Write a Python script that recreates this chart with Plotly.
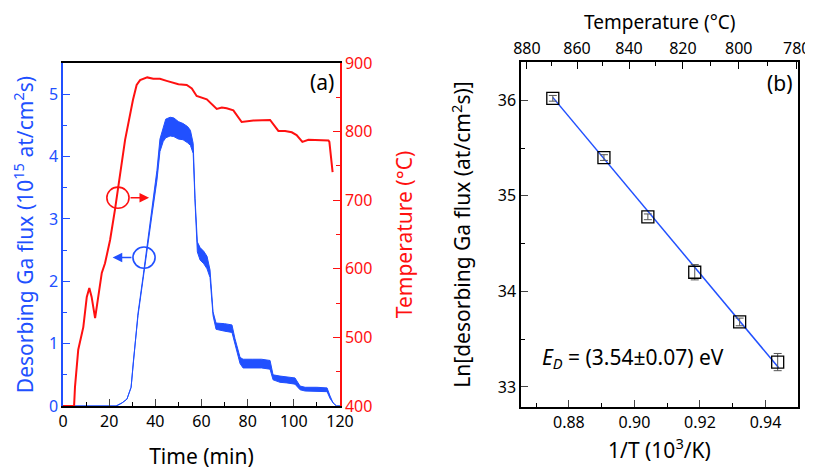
import plotly.graph_objects as go

# ---------------- Panel (a) data ----------------
flux_t = [0, 23, 25.6, 27.7, 29.5, 30.5, 32.5, 34.7, 36.4, 38.5, 40.7, 42, 43.4, 44.5, 46.4, 48, 50, 52,
          54, 55.2, 56.4, 57.2, 58.2, 59.4, 61, 62.4, 63.7, 65, 66.3, 68, 70, 73.2, 74.5, 76.7, 78, 82,
          86, 89.7, 91, 94, 97, 100.5, 102.7, 104.9, 110, 114.4, 115.7, 117, 118.5, 120]
flux_val = [0, 0, 0.05, 0.11, 0.3, 0.72, 1.47, 2.05, 2.53, 3.12, 3.7, 4.18, 4.36, 4.45, 4.48, 4.47, 4.42, 4.40,
            4.35, 4.3, 4.13, 3.3, 2.55, 2.44, 2.38, 2.3, 2.12, 1.48, 1.28, 1.27, 1.26, 1.24, 1.05, 0.73, 0.68, 0.68,
            0.68, 0.66, 0.46, 0.43, 0.42, 0.40, 0.29, 0.27, 0.27, 0.26, 0.14, 0.05, 0.0, 0.0]
flux_noise = [0, 0, 0, 0, 0, 0, 0.02, 0.03, 0.05, 0.07, 0.08, 0.1, 0.12, 0.15, 0.15, 0.15, 0.14, 0.13,
              0.13, 0.12, 0.08, 0.03, 0.08, 0.1, 0.1, 0.1, 0.06, 0.03, 0.05, 0.06, 0.06, 0.06, 0.03, 0.05, 0.07, 0.07,
              0.07, 0.07, 0.04, 0.05, 0.05, 0.05, 0.03, 0.03, 0.03, 0.03, 0.02, 0.0, 0.0, 0.0]

temp_t = [0, 4.8, 5.2, 6.6, 8.8, 10.3, 11.4, 12.4, 13.9, 15.3, 16.8, 18.2, 20.4, 22.5, 24.7, 26.9, 30.3,
          31.9, 33.4, 36.5, 39.1, 42, 44.9, 50, 53.6, 55.8, 57.9, 59.4, 62.3, 66.6, 68.8, 70.9, 73.8,
          77.4, 82.5, 89.7, 93.3, 96.2, 99.1, 101.2, 103.7, 106.3, 115, 115.4, 116.4, 116.8]
temp_val = [400, 400, 428, 482, 515, 559, 572, 559, 528, 559, 594, 608, 642, 686, 734, 788, 846,
            868, 875, 879, 877, 877, 874, 869, 868, 863, 852, 850, 847, 833, 835, 834, 831,
            814, 816, 817, 801, 801, 799, 795, 785, 788, 787, 785, 754, 741]

# ---------------- Panel (b) data ----------------
inv_T = [0.8751, 0.8907, 0.9041, 0.9184, 0.9321, 0.9437]
ln_flux = [36.02, 35.40, 34.78, 34.20, 33.68, 33.26]
ln_err = [0.03, 0.03, 0.03, 0.08, 0.04, 0.09]
fit_x = [0.8751, 0.9440]
fit_y = [36.03, 33.20]
top_T_major = [880, 860, 840, 820, 800, 780]
top_T_minor = [870, 850, 830, 810, 790]

BLUE = "#2150ff"
RED = "#ff1010"
FONT = "Noto Sans"
W, H, OFF = 813, 470, 8  # page body margin offset


def xp(px):
    return (px - OFF) / W


def yp(py):
    return 1 - (py - OFF) / H


fig = go.Figure()

hi = [v + n for v, n in zip(flux_val, flux_noise)]
lo = [max(0.0, v - n) for v, n in zip(flux_val, flux_noise)]
fig.add_trace(go.Scatter(x=flux_t + flux_t[::-1], y=hi + lo[::-1], fill="toself",
                         fillcolor=BLUE, line=dict(color=BLUE, width=1), mode="lines",
                         xaxis="x", yaxis="y", hoverinfo="skip"))
fig.add_trace(go.Scatter(x=temp_t, y=temp_val, mode="lines", line=dict(color=RED, width=2),
                         xaxis="x", yaxis="y2"))

fig.add_trace(go.Scatter(x=fit_x, y=fit_y, mode="lines", line=dict(color=BLUE, width=1.5),
                         xaxis="x2", yaxis="y3"))
fig.add_trace(go.Scatter(x=inv_T, y=ln_flux, mode="markers",
                         marker=dict(symbol="square-open", size=12, color="black", line=dict(width=1.3)),
                         error_y=dict(type="data", array=ln_err, color="#555555", thickness=1, width=4),
                         xaxis="x2", yaxis="y3"))

tickfont = dict(family=FONT, size=16, color="black")
titlefont = dict(family=FONT, size=21, color="black")
XR_B = [0.8654, 0.9499]

fig.update_layout(
    width=W, height=H,
    margin=dict(l=0, r=0, t=0, b=0),
    paper_bgcolor="white", plot_bgcolor="white",
    showlegend=False,
    font=dict(family=FONT),
    xaxis=dict(domain=[xp(63), xp(340)], range=[0, 120], anchor="y",
               tickvals=[0, 20, 40, 60, 80, 100, 120], ticks="inside", ticklen=7, tickwidth=1.3,
               minor=dict(ticks="inside", ticklen=4, tickvals=[10, 30, 50, 70, 90, 110], tickcolor="black"),
               showline=True, linecolor="black", linewidth=1.5, mirror=True, showgrid=False, zeroline=False,
               tickfont=tickfont, title=dict(text="Time (min)", font=titlefont, standoff=18),
               automargin=False),
    yaxis=dict(domain=[yp(406), yp(63)], range=[0, 5.5], anchor="x",
               tickvals=[0, 1, 2, 3, 4, 5], ticks="inside", ticklen=7, tickwidth=1.3, tickcolor=BLUE,
               minor=dict(ticks="inside", ticklen=4, tickvals=[0.5, 1.5, 2.5, 3.5, 4.5], tickcolor=BLUE),
               showline=True, linecolor=BLUE, linewidth=1.5, showgrid=False, zeroline=False,
               tickfont=dict(family=FONT, size=16, color=BLUE),
               title=dict(text="Desorbing Ga flux (10<sup>15</sup> at/cm<sup>2</sup>s)",
                          font=dict(family=FONT, size=21, color=BLUE), standoff=10),
               automargin=False),
    yaxis2=dict(domain=[yp(406), yp(63)], range=[400, 900], anchor="x", overlaying="y", side="right",
                tickvals=[400, 500, 600, 700, 800, 900], ticks="inside", ticklen=7, tickwidth=1.3, tickcolor=RED,
                minor=dict(ticks="inside", ticklen=4, tickvals=[450, 550, 650, 750, 850], tickcolor=RED),
                showline=True, linecolor=RED, linewidth=1.5, showgrid=False, zeroline=False,
                tickfont=dict(family=FONT, size=16, color=RED),
                title=dict(text="Temperature (°C)", font=dict(family=FONT, size=21, color=RED), standoff=26),
                automargin=False),
    xaxis2=dict(domain=[xp(521), xp(798)], range=XR_B, anchor="y3",
                tickvals=[0.88, 0.90, 0.92, 0.94], ticktext=["0.88", "0.90", "0.92", "0.94"],
                ticks="inside", ticklen=7, tickwidth=1.3,
                minor=dict(ticks="inside", ticklen=4, tickvals=[0.87, 0.89, 0.91, 0.93], tickcolor="black"),
                showline=True, linecolor="black", linewidth=1.5, showgrid=False, zeroline=False,
                tickfont=tickfont,
                title=dict(text="1/T (10<sup>3</sup>/K)", font=titlefont, standoff=6),
                automargin=False),
    yaxis3=dict(domain=[yp(407), yp(62)], range=[32.79, 36.4], anchor="x2",
                tickvals=[33, 34, 35, 36], ticks="inside", ticklen=7, tickwidth=1.3,
                minor=dict(ticks="inside", ticklen=4, tickvals=[33.5, 34.5, 35.5], tickcolor="black"),
                showline=True, linecolor="black", linewidth=1.5, mirror=True, showgrid=False, zeroline=False,
                tickfont=tickfont,
                title=dict(text="Ln[desorbing Ga flux (at/cm<sup>2</sup>s)]", font=titlefont, standoff=21),
                automargin=False),
    xaxis3=dict(overlaying="x2", anchor="y3", side="top", range=XR_B,
                tickvals=[1000.0 / (T + 273.15) for T in top_T_major],
                ticktext=[str(T) for T in top_T_major],
                ticks="inside", ticklen=7, tickwidth=1.3, tickcolor="black",
                showline=True, linecolor="black", linewidth=1.5,
                showgrid=False, zeroline=False, tickfont=tickfont,
                automargin=False),
    xaxis4=dict(overlaying="x2", anchor="y3", side="top", range=XR_B,
                tickvals=[1000.0 / (T + 273.15) for T in top_T_minor],
                ticks="inside", ticklen=4, tickwidth=1.3, tickcolor="black",
                showticklabels=False, showline=False, showgrid=False, zeroline=False,
                automargin=False),
)

fig.add_trace(go.Scatter(x=[None], y=[None], xaxis="x3", yaxis="y3", showlegend=False))
fig.add_trace(go.Scatter(x=[None], y=[None], xaxis="x4", yaxis="y3", showlegend=False))

# top axis title of panel (b)
fig.add_annotation(x=xp(660), y=yp(8), xref="paper", yref="paper", text="Temperature (°C)",
                   showarrow=False, xanchor="center", yanchor="top", borderpad=0,
                   font=dict(family=FONT, size=19, color="black"))

# ellipses and arrows (panel a)
fig.add_shape(type="circle", xref="x", yref="y", x0=19.0, x1=28.6, y0=3.17, y1=3.51,
              line=dict(color=RED, width=1.6))
fig.add_shape(type="circle", xref="x", yref="y", x0=30.3, x1=39.9, y0=2.21, y1=2.55,
              line=dict(color=BLUE, width=1.6))
fig.add_annotation(x=37.3, y=3.34, ax=28.6, ay=3.34, xref="x", yref="y", axref="x", ayref="y",
                   showarrow=True, arrowhead=2, arrowsize=1.2, arrowwidth=1.6, arrowcolor=RED, text="")
fig.add_annotation(x=21.5, y=2.38, ax=30.3, ay=2.38, xref="x", yref="y", axref="x", ayref="y",
                   showarrow=True, arrowhead=2, arrowsize=1.2, arrowwidth=1.6, arrowcolor=BLUE, text="")

fig.add_annotation(x=xp(322), y=yp(82), xref="paper", yref="paper", text="(a)", showarrow=False,
                   xanchor="center", yanchor="middle", font=dict(family=FONT, size=21, color="black"))
fig.add_annotation(x=xp(780), y=yp(83), xref="paper", yref="paper", text="(b)", showarrow=False,
                   xanchor="center", yanchor="middle", font=dict(family=FONT, size=21, color="black"))
fig.add_annotation(x=0.8712, y=33.3, xref="x2", yref="y3", xanchor="left", yanchor="middle",
                   text="<i>E</i><sub><i>D</i></sub> = (3.54±0.07) eV", showarrow=False,
                   font=dict(family=FONT, size=21, color="black"))

fig.write_html("out.html")
